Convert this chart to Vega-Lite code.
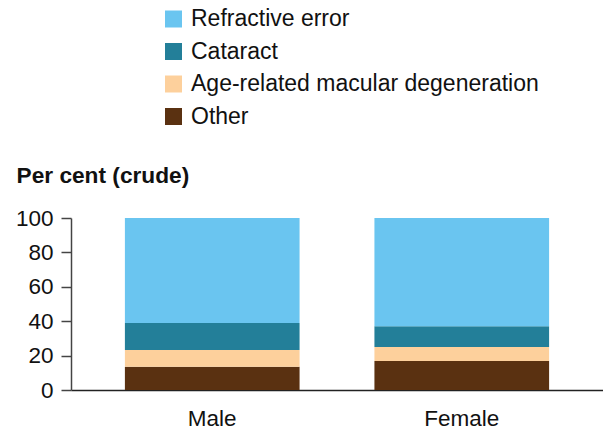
{
  "$schema": "https://vega.github.io/schema/vega-lite/v6.json",
  "width": 532,
  "height": 172,
  "autosize": {"type": "none"},
  "padding": {"left": 71, "top": 218, "right": 0, "bottom": 44},
  "background": "white",
  "config": {
    "font": "Liberation Sans",
    "view": {"stroke": null}
  },
  "data": {
    "values": [
      {"sex": "Male", "cause": "Other", "ord": 1, "pct": 13.5},
      {"sex": "Male", "cause": "Age-related macular degeneration", "ord": 2, "pct": 9.7},
      {"sex": "Male", "cause": "Cataract", "ord": 3, "pct": 15.7},
      {"sex": "Male", "cause": "Refractive error", "ord": 4, "pct": 61.1},
      {"sex": "Female", "cause": "Other", "ord": 1, "pct": 16.8},
      {"sex": "Female", "cause": "Age-related macular degeneration", "ord": 2, "pct": 8.2},
      {"sex": "Female", "cause": "Cataract", "ord": 3, "pct": 12.1},
      {"sex": "Female", "cause": "Refractive error", "ord": 4, "pct": 62.9}
    ]
  },
  "mark": {"type": "bar"},
  "encoding": {
    "x": {
      "field": "sex",
      "type": "nominal",
      "sort": ["Male", "Female"],
      "scale": {"paddingInner": 0.3, "paddingOuter": 0.216},
      "axis": {
        "title": null,
        "labelAngle": 0,
        "ticks": false,
        "labelFontSize": 22.5,
        "labelColor": "#111",
        "labelPadding": 17,
        "domainColor": "#222",
        "domainWidth": 1.5
      }
    },
    "y": {
      "field": "pct",
      "type": "quantitative",
      "stack": "zero",
      "scale": {"domain": [0, 100]},
      "axis": {
        "title": "Per cent (crude)",
        "titleAngle": 0,
        "titleX": -55,
        "titleY": -36,
        "titleAlign": "left",
        "titleBaseline": "alphabetic",
        "titleFontSize": 22.7,
        "titleFontWeight": "bold",
        "titleColor": "#111",
        "values": [0, 20, 40, 60, 80, 100],
        "grid": false,
        "tickSize": 10,
        "tickColor": "#444",
        "tickWidth": 1.5,
        "domainColor": "#444",
        "domainWidth": 1.5,
        "labelFontSize": 22.5,
        "labelColor": "#111",
        "labelPadding": 8
      }
    },
    "color": {
      "field": "cause",
      "type": "nominal",
      "scale": {
        "domain": ["Refractive error", "Cataract", "Age-related macular degeneration", "Other"],
        "range": ["#6AC5F0", "#237F99", "#FDD09C", "#5A3111"]
      },
      "legend": {
        "title": null,
        "orient": "none",
        "legendX": 91,
        "legendY": -210.5,
        "symbolType": "square",
        "symbolSize": 289,
        "symbolStrokeWidth": 0,
        "labelFontSize": 23,
        "labelColor": "#111",
        "labelOffset": 6,
        "labelLimit": 0,
        "rowPadding": 8.5,
        "padding": 0
      }
    },
    "order": {"field": "ord", "type": "quantitative"}
  }
}
